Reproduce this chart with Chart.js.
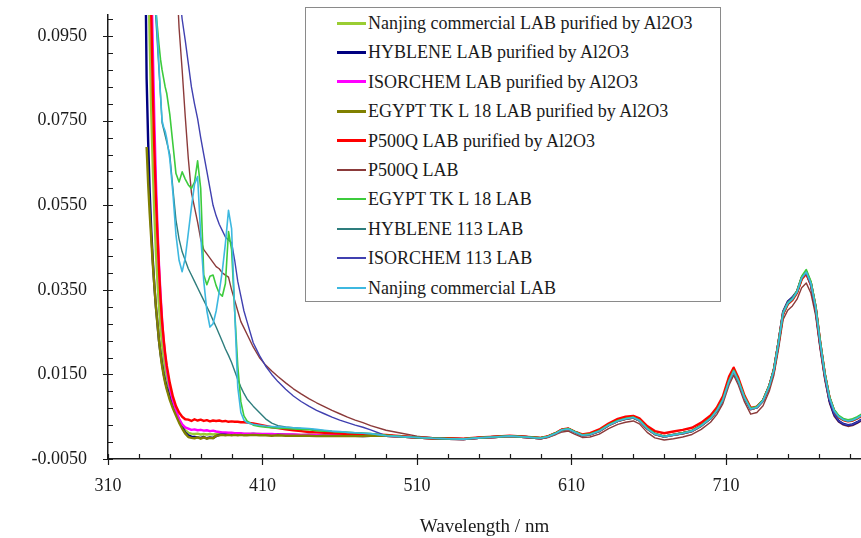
<!DOCTYPE html>
<html>
<head>
<meta charset="utf-8">
<script src="https://cdn.jsdelivr.net/npm/chart.js@4.4.1/dist/chart.umd.min.js"></script>
<style>
html,body{margin:0;padding:0;background:#fff;}
#wrap{position:relative;width:861px;height:538px;overflow:hidden;}
#legend{position:absolute;left:305px;top:7px;width:414px;height:293px;border:1px solid #8a8a8a;background:#fff;font-family:"Liberation Serif","Times New Roman",Tinos,"DejaVu Serif",serif;font-size:18px;color:#1a1a1a;}
.row{position:absolute;left:0;height:22px;line-height:22px;white-space:nowrap;}
.sw{position:absolute;left:31px;width:29px;}
.tx{position:absolute;left:62px;top:0;}
</style>
</head>
<body>
<div id="wrap"><canvas id="c" width="861" height="538"></canvas><div id="legend"></div></div>
<script>
// ---- axis ticks ----
const xTickValues = [310, 410, 510, 610, 710];
const xMinorTicks = [330, 350, 370, 390, 430, 450, 470, 490, 530, 550, 570, 590, 630, 650, 670, 690, 730, 750, 770, 790];
const yTickValues = [-0.005, 0.015, 0.035, 0.055, 0.075, 0.095];
const yMinorTicks = [-0.001, 0.003, 0.007, 0.011, 0.019, 0.023, 0.027, 0.031, 0.039, 0.043, 0.047, 0.051, 0.059, 0.063, 0.067, 0.071, 0.079, 0.083, 0.087, 0.091, 0.099];

// ---- wavelengths (nm) ----
const wavelengthsUV = [334,335,336,337,338,339,340,341,342,343,344,345,346,347,348,
  350,352,354,356,358,360,362,364,366,368,370,372,374,376,378,380,382,384,386,388,390,392,394,396,398,400,
  404,408,412,416,420,425,430,435,440,445,450,455,460,465,470,475,480];
const wavelengthsVis = [490,500,510,520,530,540,550,560,570,580,590,595,600,604,608,612,617,622,628,634,
  640,645,650,654,659,664,670,676,682,688,694,700,704,708,712,715,718,722,726,730,
  734,738,741,744,747,750,753,756,759,762,765,768,771,774,777,780,783,786,789,792,795,798];

// ---- absorbance, UV part (334-480 nm) ----
const nanjingPurifiedUV = [null,null,0.115,0.094,0.077,0.064,0.053,0.044,0.037,0.031,0.026,0.022,0.019,0.0165,0.0145,
  0.0110,0.0083,0.0062,0.0044,0.0030,0.0018,0.0012,0.0010,0.0009,0.0010,0.0008,0.0009,0.0008,0.0009,0.0008,0.0009,0.0009,0.0010,0.0009,0.0010,0.0009,0.0010,0.0009,0.0009,0.0009,0.0009,
  0.0009,0.0009,0.0008,0.0008,0.0008,0.0008,0.0007,0.0007,0.0007,0.0007,0.0006,0.0006,0.0006,0.0006,0.0005,0.0005,0.0005];
const hyblenePurifiedUV = [0.120,0.085,0.070,0.058,0.049,0.042,0.036,0.031,0.027,0.023,0.020,0.0175,0.0153,0.0135,0.0120,
  0.0095,0.0075,0.0058,0.0042,0.0026,0.0012,0.0006,0.0003,0.0002,0.0001,0.0000,0.0002,-0.0001,0.0001,0.0000,0.0004,0.0007,0.0009,0.0008,0.0009,0.0008,0.0009,0.0008,0.0009,0.0008,0.0008,
  0.0009,0.0008,0.0008,0.0007,0.0008,0.0007,0.0007,0.0006,0.0007,0.0006,0.0006,0.0005,0.0006,0.0005,0.0005,0.0004,0.0005];
const isorchemPurifiedUV = [null,null,null,0.135,0.110,0.092,0.075,0.061,0.050,0.041,0.034,0.028,0.023,0.0195,0.0165,
  0.0120,0.0088,0.0064,0.0045,0.0032,0.0025,0.0022,0.0019,0.0020,0.0018,0.0019,0.0017,0.0018,0.0016,0.0017,0.0015,0.0014,0.0013,0.0013,0.0012,0.0012,0.0011,0.0011,0.0011,0.0010,0.0010,
  0.0010,0.0009,0.0009,0.0009,0.0008,0.0008,0.0008,0.0007,0.0007,0.0007,0.0006,0.0006,0.0006,0.0006,0.0005,0.0005,0.0005];
const egyptPurifiedUV = [null,0.0688,0.060,0.053,0.047,0.041,0.036,0.031,0.027,0.023,0.0198,0.0170,0.0148,0.0130,0.0115,
  0.0090,0.0070,0.0053,0.0036,0.0022,0.0010,0.0002,0.0000,-0.0001,0.0001,-0.0002,0.0001,-0.0002,0.0000,-0.0001,0.0005,0.0006,0.0007,0.0006,0.0007,0.0006,0.0007,0.0006,0.0007,0.0006,0.0006,
  0.0007,0.0006,0.0006,0.0005,0.0006,0.0005,0.0005,0.0005,0.0005,0.0004,0.0005,0.0004,0.0004,0.0004,0.0004,0.0004,0.0005];
const p500qPurifiedUV = [null,null,null,0.125,0.100,0.082,0.068,0.057,0.048,0.040,0.033,0.0275,0.0235,0.0200,0.0172,
  0.0130,0.0098,0.0075,0.0060,0.0050,0.0044,0.0043,0.0040,0.0044,0.0041,0.0043,0.0040,0.0042,0.0039,0.0041,0.0040,0.0041,0.0039,0.0040,0.0038,0.0039,0.0038,0.0038,0.0037,0.0037,0.0036,
  0.0034,0.0031,0.0028,0.0025,0.0023,0.0020,0.0018,0.0016,0.0014,0.0013,0.0012,0.0011,0.0010,0.0009,0.0009,0.0008,0.0008];
const p500qUV = [null,null,null,null,null,null,null,null,null,null,null,null,null,null,null,
  null,null,0.112,0.097,0.087,0.076,0.066,0.058,0.0545,0.051,0.047,0.0445,0.0435,0.0425,0.0415,0.0405,0.0400,0.0390,0.0385,0.0380,0.0350,0.0325,0.0300,0.0275,0.0260,0.0245,
  0.0215,0.0190,0.0172,0.0158,0.0145,0.0130,0.0116,0.0104,0.0093,0.0083,0.0074,0.0065,0.0057,0.0049,0.0042,0.0036,0.0029];
const egyptUV = [null,null,null,null,null,null,0.108,0.101,0.097,0.093,0.0895,0.087,0.085,0.083,0.0815,
  0.0765,0.0695,0.0625,0.0605,0.0629,0.0612,0.0598,0.0590,0.0605,0.0655,0.0590,0.0385,0.0362,0.0382,0.0385,0.0360,0.0342,0.0335,0.0365,0.0488,0.0445,0.0300,0.0170,0.0085,0.0052,0.0040,
  0.0030,0.0027,0.0025,0.0024,0.0023,0.0022,0.0021,0.0020,0.0019,0.0017,0.0016,0.0015,0.0014,0.0013,0.0012,0.0011,0.0010];
const hybleneUV = [null,null,null,null,null,null,0.105,0.099,0.093,0.087,0.081,0.0745,0.0730,0.0715,0.0700,
  0.0670,0.0590,0.0515,0.0470,0.0440,0.0420,0.0400,0.0385,0.0370,0.0355,0.0340,0.0325,0.0310,0.0295,0.0278,0.0262,0.0245,0.0228,0.0210,0.0195,0.0178,0.0158,0.0138,0.0120,0.0105,0.0092,
  0.0075,0.0060,0.0045,0.0035,0.0029,0.0026,0.0024,0.0022,0.0021,0.0019,0.0017,0.0015,0.0014,0.0013,0.0012,0.0011,0.0010];
const isorchemUV = [null,null,null,null,null,null,null,null,null,null,null,null,null,null,null,
  null,null,null,0.106,0.099,0.094,0.0885,0.083,0.079,0.0755,0.071,0.067,0.063,0.059,0.055,0.0525,0.0505,0.049,0.0475,0.0468,0.0462,0.042,0.037,0.0335,0.030,0.0275,
  0.0225,0.0195,0.0170,0.0150,0.0133,0.0115,0.0099,0.0086,0.0075,0.0065,0.0057,0.0049,0.0042,0.0036,0.0030,0.0025,0.0019];
const nanjingUV = [null,null,null,null,null,null,0.110,0.102,0.095,0.088,0.081,0.075,0.0735,0.0725,0.0708,
  0.0660,0.0580,0.0480,0.0420,0.0393,0.0425,0.0485,0.0545,0.0600,0.0618,0.0480,0.0370,0.0300,0.0262,0.0270,0.0300,0.0345,0.0395,0.0460,0.0538,0.0495,0.0300,0.0120,0.0060,0.0042,0.0036,
  0.0032,0.0030,0.0028,0.0027,0.0026,0.0025,0.0024,0.0023,0.0022,0.0020,0.0018,0.0016,0.0015,0.0013,0.0012,0.0011,0.0010];

// ---- absorbance, visible part (490-798 nm) ----
const visCommon = [0.0005,0.0003,0.0001,-0.0001,-0.0002,-0.0003,0.0000,0.0002,0.0004,0.0002,-0.0001,0.0003,0.0011,0.0019,0.0021,0.0014,0.0006,0.0008,0.0016,0.0030,
  0.0040,0.0045,0.0048,0.0041,0.0022,0.0009,0.0003,0.0007,0.0011,0.0016,0.0029,0.0046,0.0064,0.0090,0.0135,0.0158,0.0135,0.0095,0.0068,0.0072,
  0.0088,0.0122,0.0160,0.0225,0.0295,0.0318,0.0328,0.0345,0.0378,0.0392,0.0365,0.0310,0.0225,0.0150,0.0095,0.0064,0.0050,0.0043,0.0040,0.0042,0.0047,0.0054];
const visP500Q = [0.0018,0.0011,0.0004,-0.0001,-0.0003,-0.0004,-0.0001,0.0001,0.0003,0.0001,-0.0002,0.0001,0.0008,0.0014,0.0016,0.0009,0.0001,0.0002,0.0009,0.0022,
  0.0032,0.0037,0.0040,0.0033,0.0013,0.0000,-0.0005,-0.0002,0.0002,0.0008,0.0020,0.0037,0.0055,0.0081,0.0125,0.0148,0.0125,0.0085,0.0056,0.0060,
  0.0076,0.0110,0.0148,0.0210,0.0280,0.0302,0.0312,0.0328,0.0355,0.0366,0.0342,0.0290,0.0208,0.0136,0.0082,0.0051,0.0037,0.0030,0.0027,0.0029,0.0034,0.0041];
const visP500QPurified = [0.0007,0.0004,0.0001,-0.0001,-0.0001,-0.0002,0.0001,0.0003,0.0005,0.0003,0.0000,0.0004,0.0012,0.0020,0.0022,0.0015,0.0008,0.0011,0.0020,0.0034,
  0.0045,0.0050,0.0052,0.0046,0.0028,0.0016,0.0011,0.0015,0.0019,0.0024,0.0036,0.0053,0.0071,0.0098,0.0145,0.0166,0.0142,0.0100,0.0071,0.0074,
  0.0089,0.0122,0.0160,0.0224,0.0293,0.0316,0.0326,0.0343,0.0375,0.0388,0.0362,0.0308,0.0223,0.0149,0.0094,0.0063,0.0049,0.0042,0.0039,0.0041,0.0046,0.0053];
const visLowTail = [0.0005,0.0003,0.0001,-0.0001,-0.0002,-0.0003,0.0000,0.0002,0.0004,0.0002,-0.0001,0.0003,0.0011,0.0019,0.0021,0.0014,0.0006,0.0008,0.0016,0.0030,
  0.0040,0.0045,0.0048,0.0041,0.0022,0.0009,0.0003,0.0007,0.0011,0.0016,0.0029,0.0046,0.0064,0.0090,0.0135,0.0158,0.0135,0.0095,0.0068,0.0072,
  0.0088,0.0122,0.0160,0.0225,0.0298,0.0322,0.0332,0.0346,0.0378,0.0390,0.0362,0.0306,0.0220,0.0146,0.0088,0.0056,0.0040,0.0033,0.0030,0.0032,0.0037,0.0044];
const visEgypt = [0.0006,0.0003,0.0001,-0.0001,-0.0002,-0.0002,0.0000,0.0002,0.0004,0.0002,0.0000,0.0004,0.0012,0.0019,0.0022,0.0015,0.0007,0.0009,0.0017,0.0031,
  0.0041,0.0046,0.0049,0.0042,0.0023,0.0010,0.0004,0.0008,0.0012,0.0017,0.0030,0.0047,0.0065,0.0091,0.0136,0.0160,0.0137,0.0097,0.0070,0.0074,
  0.0090,0.0124,0.0162,0.0227,0.0297,0.0320,0.0330,0.0348,0.0382,0.0398,0.0370,0.0314,0.0228,0.0153,0.0098,0.0067,0.0053,0.0046,0.0043,0.0045,0.0050,0.0057];

const seriesNames = [
  'Nanjing commercial LAB purified by Al2O3',
  'HYBLENE LAB purified by Al2O3',
  'ISORCHEM LAB purified by Al2O3',
  'EGYPT TK L 18 LAB purified by Al2O3',
  'P500Q LAB purified by Al2O3',
  'P500Q LAB',
  'EGYPT TK L 18 LAB',
  'HYBLENE 113 LAB',
  'ISORCHEM 113 LAB',
  'Nanjing commercial LAB'
];
const seriesUV = [nanjingPurifiedUV, hyblenePurifiedUV, isorchemPurifiedUV, egyptPurifiedUV, p500qPurifiedUV,
  p500qUV, egyptUV, hybleneUV, isorchemUV, nanjingUV];
const seriesVis = [visCommon, visLowTail, visCommon, visCommon, visP500QPurified,
  visP500Q, visEgypt, visCommon, visLowTail, visCommon];
const seriesColors = ['#9ACD32', '#000080', '#FF00FF', '#808000', '#FF0000',
  '#8B3A3A', '#3CCB3C', '#2E7D7D', '#4040B0', '#3DB8E0'];
const seriesWidths = [2.4, 2.4, 2.4, 2.4, 2.4, 1.4, 1.6, 1.4, 1.4, 1.6];
const seriesOrder = [8, 7, 6, 4, 5, 9, 1, 2, 3, 0];

function toPoints(uv, vis) {
  const pts = [];
  wavelengthsUV.forEach((w, i) => { if (uv[i] !== null) pts.push({x: w, y: uv[i]}); });
  wavelengthsVis.forEach((w, i) => pts.push({x: w, y: vis[i]}));
  return pts;
}

const datasets = seriesNames.map((name, i) => ({
  label: name,
  data: toPoints(seriesUV[i], seriesVis[i]),
  borderColor: seriesColors[i],
  backgroundColor: seriesColors[i],
  borderWidth: seriesWidths[i],
  pointRadius: 0,
  tension: 0,
  fill: false,
  order: seriesOrder[i],
  borderJoinStyle: 'round'
}));

const FONT = '"Liberation Serif", "Times New Roman", Tinos, "DejaVu Serif", serif';
const INK = '#1a1a1a';

const tickMarks = {
  id: 'tickMarks',
  afterDraw(chart) {
    const {ctx, chartArea: a} = chart;
    const x = chart.scales.x, y = chart.scales.y;
    ctx.save();
    ctx.strokeStyle = INK;
    ctx.lineWidth = 1.2;
    ctx.beginPath();
    xMinorTicks.forEach(v => { const p = Math.round(x.getPixelForValue(v)) + 0.5; ctx.moveTo(p, a.bottom); ctx.lineTo(p, a.bottom - 5); });
    xTickValues.forEach(v => { const p = Math.round(x.getPixelForValue(v)) + 0.5; ctx.moveTo(p, a.bottom - 5); ctx.lineTo(p, a.bottom + 6); });
    yMinorTicks.forEach(v => { const p = Math.round(y.getPixelForValue(v)) + 0.5; ctx.moveTo(a.left, p); ctx.lineTo(a.left + 5, p); });
    yTickValues.forEach(v => { const p = Math.round(y.getPixelForValue(v)) + 0.5; ctx.moveTo(a.left - 5, p); ctx.lineTo(a.left + 5, p); });
    ctx.stroke();
    ctx.restore();
  }
};

const chart = new Chart(document.getElementById('c'), {
  type: 'line',
  data: {datasets},
  options: {
    responsive: false,
    animation: false,
    devicePixelRatio: 1,
    layout: {padding: {top: 15, right: 0, left: 0, bottom: 0}},
    plugins: {legend: {display: false}, tooltip: {enabled: false}},
    scales: {
      x: {
        type: 'linear', min: 310, max: 797.4, position: 'bottom',
        border: {display: true, color: INK, width: 1.5},
        grid: {display: false, drawTicks: false},
        afterBuildTicks: s => { s.ticks = xTickValues.map(v => ({value: v})); },
        afterFit: s => { s.height = 79; s.paddingLeft = 0; s.paddingRight = 0; },
        ticks: {padding: 16, autoSkip: false, maxRotation: 0, color: INK, font: {family: FONT, size: 18},
          callback: v => String(v)},
        title: {display: true, text: 'Wavelength / nm', color: INK, font: {family: FONT, size: 19}, padding: {top: 0, bottom: 0}}
      },
      y: {
        type: 'linear', min: -0.005, max: 0.1,
        border: {display: true, color: INK, width: 1.5},
        grid: {display: false, drawTicks: false},
        afterBuildTicks: s => { s.ticks = yTickValues.map(v => ({value: v})); },
        afterFit: s => { s.width = 108; s.paddingTop = 0; s.paddingBottom = 0; },
        ticks: {padding: 21, autoSkip: false, color: INK, font: {family: FONT, size: 18},
          callback: v => Number(v).toFixed(4)}
      }
    }
  },
  plugins: [tickMarks]
});

// HTML legend built from the chart's datasets
const legendEl = document.getElementById('legend');
chart.data.datasets.forEach((ds, i) => {
  const row = document.createElement('div');
  row.className = 'row';
  row.style.top = (4 + i * 29.4) + 'px';
  row.style.width = '100%';
  const sw = document.createElement('div');
  sw.className = 'sw';
  sw.style.background = ds.borderColor;
  const h = ds.borderWidth >= 2 ? 3 : 2;
  sw.style.height = h + 'px';
  sw.style.top = (11 - h / 2) + 'px';
  const tx = document.createElement('span');
  tx.className = 'tx';
  tx.textContent = ds.label;
  row.appendChild(sw);
  row.appendChild(tx);
  legendEl.appendChild(row);
});
</script>
</body>
</html>
